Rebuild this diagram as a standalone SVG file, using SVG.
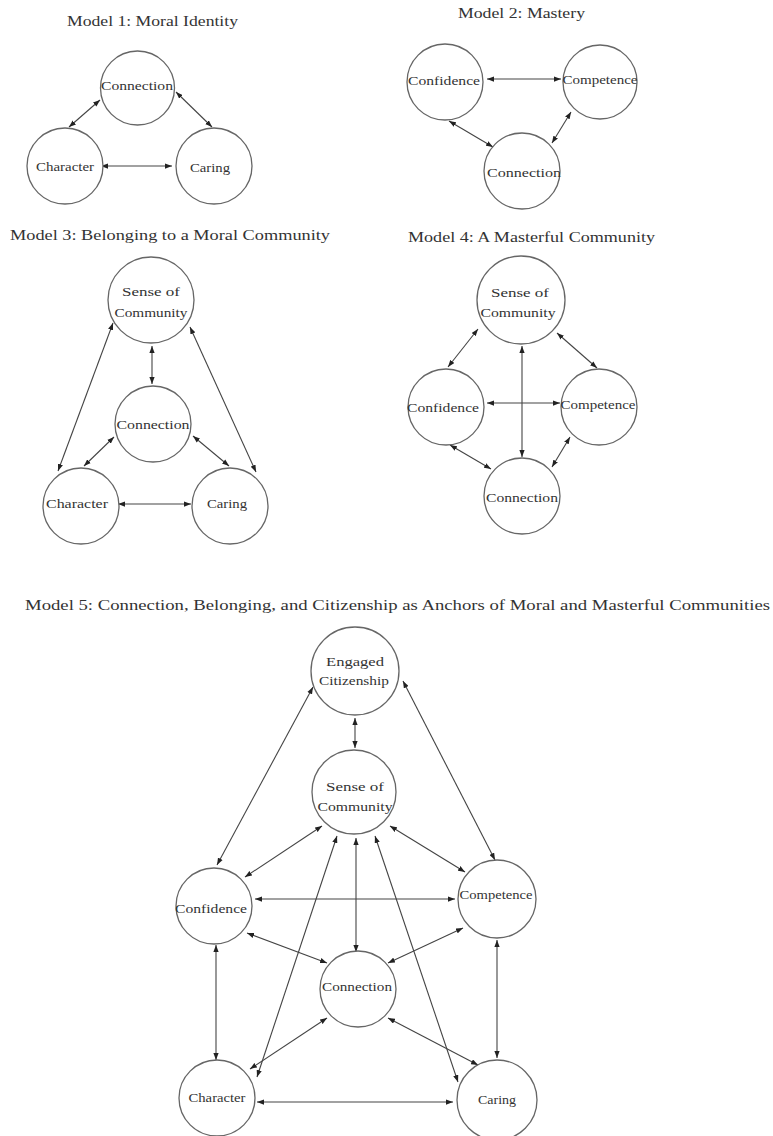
<svg xmlns="http://www.w3.org/2000/svg" width="773" height="1136" viewBox="0 0 773 1136">
<defs>
<marker id="ah" viewBox="0 0 8 6" refX="8" refY="3" markerWidth="7" markerHeight="5.5" markerUnits="userSpaceOnUse" orient="auto-start-reverse">
<path d="M0,0 L8,3 L0,6 z" fill="#222"/>
</marker>
</defs>
<style>
.n{fill:#fff;stroke:#666;stroke-width:1.3}
.t{font-family:"Liberation Serif","Times New Roman",serif;font-size:12.5px;fill:#333;text-anchor:middle}
.h{font-family:"Liberation Serif","Times New Roman",serif;font-size:15px;fill:#333}
.c line{stroke:#444;stroke-width:1.1;marker-start:url(#ah);marker-end:url(#ah)}
</style>
<rect width="773" height="1136" fill="#fff"/>

<g id="titles">
<text class="h" x="67" y="26" textLength="171" lengthAdjust="spacingAndGlyphs">Model  1:  Moral Identity</text>
<text class="h" x="458" y="18" textLength="127" lengthAdjust="spacingAndGlyphs">Model 2: Mastery</text>
<text class="h" x="10" y="240" textLength="320" lengthAdjust="spacingAndGlyphs">Model 3: Belonging  to a Moral Community</text>
<text class="h" x="408" y="242" textLength="247" lengthAdjust="spacingAndGlyphs">Model 4: A Masterful  Community</text>
<text class="h" x="25" y="610" textLength="745" lengthAdjust="spacingAndGlyphs">Model 5: Connection,  Belonging,  and Citizenship  as Anchors of Moral and Masterful  Communities</text>
</g>

<g id="connectors" class="c">
<!-- M1 -->
<line x1="69" y1="127" x2="100" y2="100"/>
<line x1="176" y1="92" x2="212" y2="127"/>
<line x1="101" y1="166" x2="172" y2="166"/>
<!-- M2 -->
<line x1="487" y1="79" x2="561" y2="79"/>
<line x1="449" y1="121" x2="493" y2="147"/>
<line x1="571" y1="112" x2="552" y2="143"/>
<!-- M3 -->
<line x1="152" y1="346" x2="152" y2="384"/>
<line x1="113" y1="323" x2="58" y2="471"/>
<line x1="190" y1="327" x2="256" y2="472"/>
<line x1="114" y1="437" x2="84" y2="466"/>
<line x1="193" y1="436" x2="229" y2="466"/>
<line x1="118" y1="504" x2="191" y2="504"/>
<!-- M4 -->
<line x1="478" y1="329" x2="448" y2="367"/>
<line x1="557" y1="333" x2="597" y2="368"/>
<line x1="522" y1="346" x2="522" y2="457"/>
<line x1="487" y1="403" x2="560" y2="403"/>
<line x1="450" y1="445" x2="491" y2="469"/>
<line x1="570" y1="437" x2="552" y2="467"/>
<!-- M5 -->
<line x1="355" y1="718" x2="355" y2="748"/>
<line x1="313" y1="687" x2="217" y2="865"/>
<line x1="403" y1="681" x2="495" y2="860"/>
<line x1="322" y1="826" x2="245" y2="877"/>
<line x1="390" y1="826" x2="465" y2="872"/>
<line x1="337" y1="836" x2="257" y2="1077"/>
<line x1="356" y1="838" x2="356" y2="952"/>
<line x1="375" y1="836" x2="458" y2="1082"/>
<line x1="255" y1="899" x2="455" y2="899"/>
<line x1="247" y1="933" x2="327" y2="963"/>
<line x1="463" y1="928" x2="388" y2="963"/>
<line x1="216" y1="945" x2="216" y2="1060"/>
<line x1="497" y1="940" x2="497" y2="1058"/>
<line x1="327" y1="1018" x2="250" y2="1069"/>
<line x1="388" y1="1018" x2="478" y2="1065"/>
<line x1="257" y1="1102" x2="453" y2="1102"/>
</g>

<!-- Model 1 -->
<g id="m1-connection"><circle class="n" cx="137.5" cy="88" r="37"/><text class="t" x="137" y="90" textLength="72" lengthAdjust="spacingAndGlyphs">Connection</text></g>
<g id="m1-character"><circle class="n" cx="65" cy="166" r="38"/><text class="t" x="65" y="171" textLength="58" lengthAdjust="spacingAndGlyphs">Character</text></g>
<g id="m1-caring"><circle class="n" cx="214" cy="166" r="38"/><text class="t" x="210" y="172" textLength="40" lengthAdjust="spacingAndGlyphs">Caring</text></g>

<!-- Model 2 -->
<g id="m2-confidence"><circle class="n" cx="445" cy="82" r="38"/><text class="t" x="444" y="85" textLength="72" lengthAdjust="spacingAndGlyphs">Confidence</text></g>
<g id="m2-competence"><circle class="n" cx="600" cy="82" r="37"/><text class="t" x="600" y="84" textLength="75" lengthAdjust="spacingAndGlyphs">Competence</text></g>
<g id="m2-connection"><circle class="n" cx="522" cy="171" r="38"/><text class="t" x="524" y="177" textLength="74" lengthAdjust="spacingAndGlyphs">Connection</text></g>

<!-- Model 3 -->
<g id="m3-sense"><circle class="n" cx="151" cy="300" r="43"/><text class="t" x="151" y="296" textLength="58" lengthAdjust="spacingAndGlyphs">Sense of</text><text class="t" x="151" y="317" textLength="73" lengthAdjust="spacingAndGlyphs">Community</text></g>
<g id="m3-connection"><circle class="n" cx="153" cy="424" r="38"/><text class="t" x="153" y="429" textLength="73" lengthAdjust="spacingAndGlyphs">Connection</text></g>
<g id="m3-character"><circle class="n" cx="81" cy="506" r="38"/><text class="t" x="77" y="508" textLength="62" lengthAdjust="spacingAndGlyphs">Character</text></g>
<g id="m3-caring"><circle class="n" cx="230" cy="506" r="38"/><text class="t" x="227" y="508" textLength="40" lengthAdjust="spacingAndGlyphs">Caring</text></g>

<!-- Model 4 -->
<g id="m4-sense"><circle class="n" cx="521" cy="300" r="44"/><text class="t" x="520" y="297" textLength="58" lengthAdjust="spacingAndGlyphs">Sense of</text><text class="t" x="518" y="317" textLength="75" lengthAdjust="spacingAndGlyphs">Community</text></g>
<g id="m4-confidence"><circle class="n" cx="446" cy="407" r="38"/><text class="t" x="443" y="412" textLength="72" lengthAdjust="spacingAndGlyphs">Confidence</text></g>
<g id="m4-competence"><circle class="n" cx="599" cy="407" r="38"/><text class="t" x="598" y="409" textLength="75" lengthAdjust="spacingAndGlyphs">Competence</text></g>
<g id="m4-connection"><circle class="n" cx="522" cy="496" r="38"/><text class="t" x="522" y="502" textLength="72" lengthAdjust="spacingAndGlyphs">Connection</text></g>

<!-- Model 5 -->
<g id="m5-engaged"><circle class="n" cx="355" cy="671" r="44"/><text class="t" x="355" y="666" textLength="58" lengthAdjust="spacingAndGlyphs">Engaged</text><text class="t" x="354" y="685" textLength="70" lengthAdjust="spacingAndGlyphs">Citizenship</text></g>
<g id="m5-sense"><circle class="n" cx="354" cy="792" r="42"/><text class="t" x="355" y="791" textLength="58" lengthAdjust="spacingAndGlyphs">Sense of</text><text class="t" x="355" y="811" textLength="75" lengthAdjust="spacingAndGlyphs">Community</text></g>
<g id="m5-confidence"><circle class="n" cx="214" cy="906" r="38"/><text class="t" x="211" y="913" textLength="72" lengthAdjust="spacingAndGlyphs">Confidence</text></g>
<g id="m5-competence"><circle class="n" cx="497" cy="899" r="39"/><text class="t" x="496" y="899" textLength="73" lengthAdjust="spacingAndGlyphs">Competence</text></g>
<g id="m5-connection"><circle class="n" cx="358" cy="989" r="38"/><text class="t" x="357" y="991" textLength="70" lengthAdjust="spacingAndGlyphs">Connection</text></g>
<g id="m5-character"><circle class="n" cx="217" cy="1098" r="38"/><text class="t" x="217" y="1102" textLength="57" lengthAdjust="spacingAndGlyphs">Character</text></g>
<g id="m5-caring"><circle class="n" cx="497" cy="1100" r="40"/><text class="t" x="497" y="1104" textLength="38" lengthAdjust="spacingAndGlyphs">Caring</text></g>
</svg>
